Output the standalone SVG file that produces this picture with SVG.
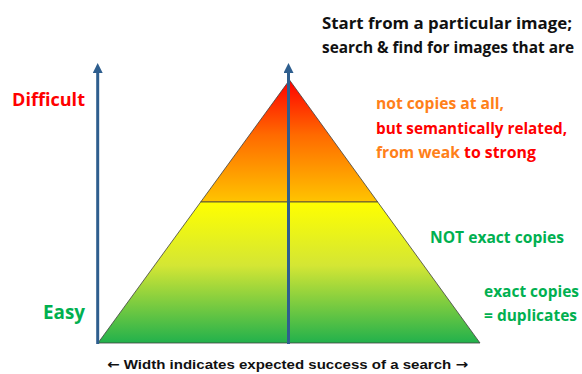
<svg xmlns="http://www.w3.org/2000/svg" width="582" height="374" viewBox="0 0 582 374">
  <style>
    .lbl { font-family: "Open Sans", "Liberation Sans", sans-serif; font-weight: bold; }
    .axis { stroke: #2E5E8E; stroke-width: 3; fill: none; }
    .edge { stroke: #404040; stroke-width: 0.8; }
    .red { fill: #FF0000; }
    .orange { fill: #FF8019; }
    .green { fill: #00B050; }
    .black { fill: #111111; }
    .arr { font-family: "DejaVu Sans", sans-serif; }
  </style>
  <defs>
    <linearGradient id="topGrad" x1="0" y1="80" x2="0" y2="202" gradientUnits="userSpaceOnUse">
      <stop offset="0" stop-color="#FF0000"/>
      <stop offset="0.45" stop-color="#FF6A00"/>
      <stop offset="1" stop-color="#FFC400"/>
    </linearGradient>
    <linearGradient id="baseGrad" x1="0" y1="202" x2="0" y2="343" gradientUnits="userSpaceOnUse">
      <stop offset="0" stop-color="#FFFF00"/>
      <stop offset="0.45" stop-color="#D4E634"/>
      <stop offset="1" stop-color="#22B14C"/>
    </linearGradient>
    <marker id="tip" markerWidth="10" markerHeight="10" refX="3" refY="5" orient="auto" markerUnits="userSpaceOnUse" viewBox="0 0 10 10">
      <path d="M0,0 L10,5 L0,10 Z" fill="#2E5E8E"/>
    </marker>
  </defs>

  <!-- pyramid bands -->
  <g id="pyramid-top">
    <polygon points="289.5,80 377.7,202 200.7,202" fill="url(#topGrad)" class="edge"/>
  </g>
  <g id="pyramid-base">
    <polygon points="200.7,202 377.7,202 480,343 98,343" fill="url(#baseGrad)" class="edge"/>
  </g>

  <!-- vertical axes -->
  <g id="connectors">
    <line class="axis" x1="97.7" y1="344" x2="97.7" y2="70" marker-end="url(#tip)"/>
    <line class="axis" x1="288.5" y1="344" x2="288.5" y2="70" marker-end="url(#tip)"/>
  </g>

  <!-- axis labels -->
  <g id="label-difficult">
    <text class="lbl red" x="12" y="106" font-size="18" textLength="73" lengthAdjust="spacingAndGlyphs">Difficult</text>
  </g>
  <g id="label-easy">
    <text class="lbl green" x="43" y="319" font-size="19" textLength="42" lengthAdjust="spacingAndGlyphs">Easy</text>
  </g>

  <!-- heading -->
  <g id="heading">
    <text class="lbl black" x="322" y="29" font-size="16" textLength="250" lengthAdjust="spacingAndGlyphs">Start from a particular image;</text>
    <text class="lbl black" x="322" y="53" font-size="16" textLength="252" lengthAdjust="spacingAndGlyphs">search &amp; find for images that are</text>
  </g>

  <!-- level descriptions -->
  <g id="level-semantic">
    <text class="lbl orange" x="376" y="109" font-size="15.5" textLength="128" lengthAdjust="spacingAndGlyphs">not copies at all,</text>
    <text class="lbl red" x="376" y="134" font-size="15.5" textLength="191" lengthAdjust="spacingAndGlyphs">but semantically related,</text>
    <text class="lbl orange" x="376" y="158" font-size="15.5" textLength="84" lengthAdjust="spacingAndGlyphs">from weak</text>
    <text class="lbl red" x="464" y="158" font-size="15.5" textLength="72" lengthAdjust="spacingAndGlyphs">to strong</text>
  </g>
  <g id="level-near">
    <text class="lbl green" x="430" y="243" font-size="15.5" textLength="134" lengthAdjust="spacingAndGlyphs">NOT exact copies</text>
  </g>
  <g id="level-exact">
    <text class="lbl green" x="484" y="297" font-size="15.5" textLength="95" lengthAdjust="spacingAndGlyphs">exact copies</text>
    <text class="lbl green" x="484" y="321" font-size="15.5" textLength="93" lengthAdjust="spacingAndGlyphs">= duplicates</text>
  </g>

  <!-- footer -->
  <g id="footer">
    <text x="107" y="369" font-family="'Liberation Sans', Arial, sans-serif" font-weight="bold" font-size="13.5" class="black" textLength="361" lengthAdjust="spacingAndGlyphs"><tspan class="arr">←</tspan> Width indicates expected success of a search <tspan class="arr">→</tspan></text>
  </g>
</svg>
